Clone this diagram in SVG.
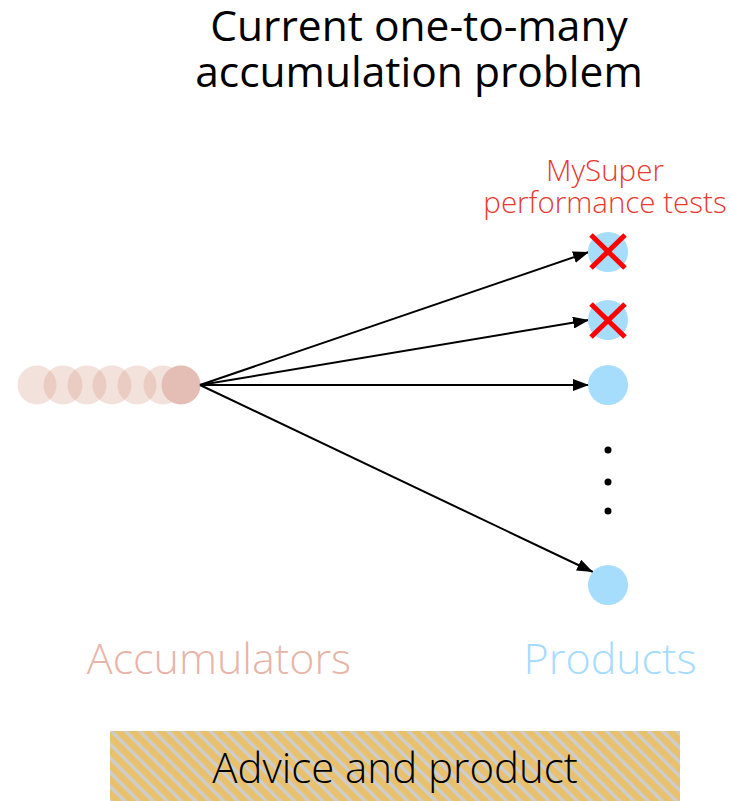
<svg xmlns="http://www.w3.org/2000/svg" width="730" height="801" viewBox="0 0 730 801">
  <defs>
    <marker id="arrow" viewBox="0 0 16 12" refX="16" refY="6" markerWidth="16" markerHeight="12" markerUnits="userSpaceOnUse" orient="auto">
      <path d="M0,0 L16,6 L0,12 z" fill="#000"/>
    </marker>
    <pattern id="stripes" patternUnits="userSpaceOnUse" width="10" height="10" patternTransform="rotate(-45)">
      <rect width="10" height="10" fill="#e9c16c"/>
      <rect width="3.5" height="10" fill="#cdcdcd"/>
    </pattern>
    <style>
      text { font-family: "Open Sans", "Noto Sans", sans-serif; }
      .title { font-size: 42.5px; fill: #000; text-anchor: middle; }
      .note { font-size: 29.5px; fill: #e8392f; text-anchor: middle; font-weight: 300; }
      .label { font-size: 43px; text-anchor: middle; font-weight: 300; }
      .bar-text { font-size: 42px; text-anchor: middle; font-weight: 300; fill: #000; }
      .acc { fill: #d89a8c; fill-opacity: 0.3; }
      .prod { fill: #a6dcfc; }
      .cross { stroke: #ff0000; stroke-width: 5; }
      .edge { stroke: #000; stroke-width: 2; fill: none; marker-end: url(#arrow); }
    </style>
  </defs>
  <rect width="730" height="801" fill="#fff"/>

  <g id="title">
    <text class="title" x="419" y="41">Current one-to-many</text>
    <text class="title" x="419" y="87">accumulation problem</text>
  </g>

  <g id="accumulators">
    <circle class="acc" cx="37" cy="385" r="19.5"/>
    <circle class="acc" cx="63" cy="385" r="19.5"/>
    <circle class="acc" cx="87" cy="385" r="19.5"/>
    <circle class="acc" cx="112" cy="385" r="19.5"/>
    <circle class="acc" cx="137" cy="385" r="19.5"/>
    <circle class="acc" cx="163" cy="385" r="19.5"/>
    <circle cx="181" cy="385" r="19.5" fill="#e4bdb4"/>
  </g>

  <g id="connectors">
    <line class="edge" x1="200" y1="385" x2="589" y2="252"/>
    <line class="edge" x1="200" y1="385" x2="589" y2="320"/>
    <line class="edge" x1="200" y1="385" x2="589" y2="385"/>
    <line class="edge" x1="200" y1="385" x2="593" y2="572"/>
  </g>

  <g id="product-1">
    <circle class="prod" cx="608" cy="252" r="20"/>
    <line class="cross" x1="591" y1="235" x2="625" y2="268"/>
    <line class="cross" x1="625" y1="235" x2="591" y2="268"/>
  </g>
  <g id="product-2">
    <circle class="prod" cx="608" cy="320" r="20"/>
    <line class="cross" x1="591" y1="304" x2="625" y2="337"/>
    <line class="cross" x1="625" y1="304" x2="591" y2="337"/>
  </g>
  <g id="product-3">
    <circle class="prod" cx="608" cy="385" r="20"/>
  </g>
  <g id="ellipsis">
    <circle cx="608" cy="450" r="3.5" fill="#000"/>
    <circle cx="608" cy="482" r="3.5" fill="#000"/>
    <circle cx="608" cy="511" r="3.5" fill="#000"/>
  </g>
  <g id="product-n">
    <circle class="prod" cx="608" cy="585" r="20"/>
  </g>

  <g id="mysuper-note">
    <text class="note" x="605" y="181">MySuper</text>
    <text class="note" x="605" y="213">performance tests</text>
  </g>

  <g id="labels">
    <text class="label" x="219" y="674" fill="#e8b4a8">Accumulators</text>
    <text class="label" x="610" y="674" fill="#a5dcff">Products</text>
  </g>

  <g id="advice-bar">
    <rect x="110" y="731" width="570" height="70" fill="url(#stripes)"/>
    <text class="bar-text" x="395" y="783">Advice and product</text>
  </g>
</svg>
